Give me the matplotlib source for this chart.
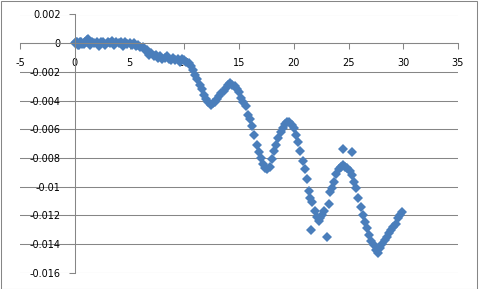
import matplotlib
matplotlib.use('Agg')
import matplotlib.pyplot as plt
from matplotlib.patches import Rectangle

# scatter values
x_vals = [0.0, 0.1, 0.2, 0.3, 0.4, 0.5, 0.6, 0.7, 0.8, 0.9, 1.0, 1.1, 1.2, 1.3, 1.4,
          1.6, 1.8, 2.0, 2.2, 2.4, 2.6, 2.8,
          3.0, 3.2, 3.4, 3.6, 3.8, 4.0, 4.2, 4.4, 4.6, 4.8, 5.0,
          5.2, 5.4, 5.6, 5.8, 6.0, 6.2, 6.4, 6.6, 6.8, 7.0, 7.2, 7.4, 7.6, 7.8,
          8.0, 8.2, 8.4, 8.6, 8.8, 9.0, 9.2, 9.4, 9.6, 9.8, 10.0, 10.2, 10.4,
          10.6, 10.8, 11.0, 11.2, 11.4, 11.6, 11.8, 12.0, 12.2, 12.4, 12.6, 12.8,
          13.0, 13.2, 13.4, 13.6, 13.8, 14.0, 14.2, 14.4, 14.6, 14.8, 15.0, 15.2,
          15.4, 15.6, 15.8, 16.0, 16.2, 16.4, 16.6, 16.8, 17.0, 17.2, 17.4, 17.6,
          17.8, 18.0, 18.2, 18.4, 18.6, 18.8, 19.0, 19.2, 19.4, 19.6, 19.8, 20.0,
          20.2, 20.4, 20.6, 20.8, 21.0, 21.2, 21.4, 21.5, 21.6, 21.7, 21.9, 22.1,
          22.3, 22.4, 22.6, 22.8, 23.0, 23.2, 23.3, 23.5, 23.7, 23.9, 24.1, 24.3,
          24.5, 24.5, 24.7, 24.9, 25.1, 25.3, 25.3, 25.5, 25.7, 25.9, 26.1, 26.3,
          26.5, 26.7, 26.9, 27.1, 27.3, 27.5, 27.7, 27.9, 28.1, 28.3, 28.5, 28.7,
          28.9, 29.1, 29.3, 29.5, 29.7, 29.85]
y_vals = [0.0, 0.00005, 0.00005, -0.0001, -0.0001, 0.00005, 0.0001, -0.00005,
          -0.00005, 0.0001, 0.0001, 0.0002, 0.0003, 0.0, -0.0001, 0.0001,
          0.0, 0.0001, -0.0002, 0.00005, 0.0001, -0.0001, 0.0001, 0.0, 0.00015,
          -0.0001, 0.0001, 0.0, 0.0001, -0.0002, 0.0001, -0.00005, 0.0,
          -0.0001, 0.0, -0.0002, -0.0001, -0.0003, -0.0003, -0.0005, -0.0005,
          -0.0008, -0.0007, -0.0009, -0.0008, -0.001, -0.0009, -0.0011, -0.001,
          -0.0009, -0.0011, -0.0012, -0.001, -0.0012, -0.0011, -0.0013, -0.0011,
          -0.0012, -0.0013, -0.0014,
          -0.0016, -0.0019, -0.0022, -0.0025, -0.0029, -0.0032, -0.0036, -0.0039,
          -0.0041, -0.0043, -0.0042, -0.0041, -0.0039, -0.0037, -0.0035, -0.0033,
          -0.0031, -0.0029, -0.0028, -0.0029, -0.003, -0.0032, -0.0034, -0.0038,
          -0.0041, -0.0044, -0.005, -0.0053, -0.0058, -0.0064, -0.0071, -0.0076,
          -0.008, -0.0084, -0.0087, -0.0088, -0.0086, -0.0081, -0.0075, -0.0071,
          -0.0066, -0.0062, -0.0059, -0.0056, -0.0055, -0.0055, -0.0057, -0.0059,
          -0.0064, -0.0069, -0.0075, -0.0082, -0.0088, -0.0095, -0.0103, -0.0108,
          -0.013, -0.0111, -0.0117, -0.0121, -0.0124, -0.0122, -0.012, -0.0117,
          -0.0135, -0.0112, -0.0104, -0.0101, -0.0097, -0.0091, -0.0088, -0.0086,
          -0.0085, -0.0074, -0.0086, -0.0087, -0.0089, -0.0092, -0.0076, -0.0097,
          -0.0101, -0.0108, -0.0114, -0.012, -0.0125, -0.0129, -0.0134, -0.0138,
          -0.0141, -0.0144, -0.0146, -0.0143, -0.014, -0.0137, -0.0135, -0.0132,
          -0.013, -0.0128, -0.0126, -0.0122, -0.012, -0.0118]

x_ticks = [-5, 0, 5, 10, 15, 20, 25, 30, 35]
y_ticks = [0.002, 0, -0.002, -0.004, -0.006, -0.008, -0.01, -0.012, -0.014, -0.016]
y_tick_labels = ['0.002', '0', '-0.002', '-0.004', '-0.006', '-0.008', '-0.01',
                 '-0.012', '-0.014', '-0.016']

grey = '#868686'
blue = '#4A7EBB'

fig = plt.figure(figsize=(4.81, 2.89), dpi=100)
ax = fig.add_axes([20 / 481, 1 - 272.7 / 289, 438 / 481, 258.2 / 289])

ax.plot(x_vals, y_vals, linestyle='none', marker='D', ms=5.6, color=blue, mew=0)

ax.set_xlim(-5, 35)
ax.set_ylim(-0.016, 0.002)
ax.set_xticks(x_ticks)
ax.set_xticklabels([str(t) for t in x_ticks])
ax.set_yticks(y_ticks)
ax.set_yticklabels(y_tick_labels)

ax.spines['left'].set_position(('data', 0))
ax.spines['bottom'].set_position(('data', 0))
ax.spines['top'].set_visible(False)
ax.spines['right'].set_visible(False)
for s in ('left', 'bottom'):
    ax.spines[s].set_color(grey)
    ax.spines[s].set_linewidth(0.75)

ax.yaxis.grid(True, color=grey, lw=0.75)
ax.set_axisbelow(True)
ax.tick_params(axis='x', direction='out', length=4, color=grey, width=0.75,
               labelsize=7, pad=7, labelcolor='black')
ax.tick_params(axis='y', direction='out', length=4, color=grey, width=0.75,
               labelsize=7, pad=6, labelcolor='black')

fig.add_artist(Rectangle((0.5 / 481, 0.5 / 289), 476.5 / 481, 287.5 / 289,
                         transform=fig.transFigure, fill=False, ec=grey, lw=0.75))

fig.savefig('out.png', dpi=100)
